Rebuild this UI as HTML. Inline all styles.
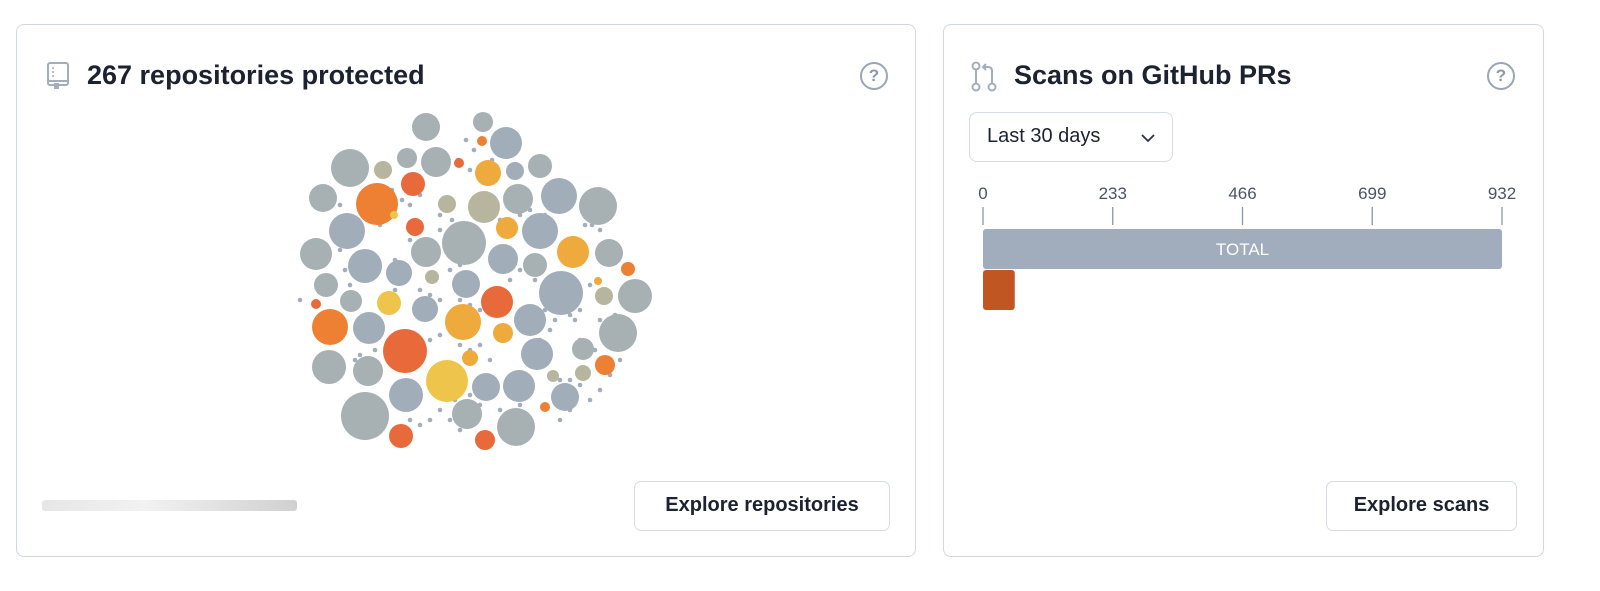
<!DOCTYPE html>
<html><head><meta charset="utf-8">
<style>
body{margin:0;width:1600px;height:591px;background:#fff;font-family:"Liberation Sans",sans-serif;position:relative;overflow:hidden}
.card{position:absolute;border:1.5px solid #cfd8e3;border-radius:8px;box-sizing:border-box;background:#fff}
.title{position:absolute;font-weight:bold;font-size:27px;color:#1c2230;top:56px}
.help{position:absolute;width:24px;height:24px;border:2px solid #9aa5b5;border-radius:50%;color:#8d98aa;font-size:17px;font-weight:bold;text-align:center;line-height:24px}
.btn{position:absolute;border:1.5px solid #d5dce5;border-radius:7px;box-sizing:border-box;font-weight:bold;font-size:20px;color:#1c2230;text-align:center;line-height:46px;background:#fff}
</style></head><body>
<div class="card" style="left:16px;top:24px;width:900px;height:533px">
  <svg style="position:absolute;left:28px;top:36px" width="28" height="30" viewBox="0 0 28 30"><rect x="3" y="2" width="20" height="22" rx="2" fill="none" stroke="#a2adbd" stroke-width="2"/><line x1="3" y1="20" x2="23" y2="20" stroke="#a2adbd" stroke-width="2"/><rect x="9" y="22" width="5" height="6" fill="#a2adbd"/><circle cx="8" cy="7" r="1" fill="#a2adbd"/><circle cx="8" cy="11" r="1" fill="#a2adbd"/><circle cx="8" cy="15" r="1" fill="#a2adbd"/></svg>
  <div class="title" style="left:70px;top:35px">267 repositories protected</div>
  <div class="help" style="left:843px;top:37px">?</div>
  <div style="position:absolute;left:25px;top:475px;width:255px;height:11px;border-radius:3px;background:linear-gradient(90deg,#e6e6e6,#f2f2f2 40%,#d0d0d0)"></div>
  <div class="btn" style="left:617px;top:456px;width:256px;height:50px">Explore repositories</div>
</div>
<svg id="bubbles" style="position:absolute;left:0;top:0" width="700" height="591"></svg>

<div class="card" style="left:943px;top:24px;width:601px;height:533px">
  <svg style="position:absolute;left:26px;top:36px" width="30" height="32" viewBox="0 0 30 32"><circle cx="6" cy="5" r="3.5" fill="none" stroke="#a2adbd" stroke-width="2"/><circle cx="6" cy="26" r="3.5" fill="none" stroke="#a2adbd" stroke-width="2"/><circle cx="22" cy="26" r="3.5" fill="none" stroke="#a2adbd" stroke-width="2"/><line x1="6" y1="9" x2="6" y2="22" stroke="#a2adbd" stroke-width="2"/><path d="M22 22 V10 Q22 6 18 6 H13 M16 3 L13 6 L16 9" fill="none" stroke="#a2adbd" stroke-width="2"/></svg>
  <div class="title" style="left:70px;top:35px">Scans on GitHub PRs</div>
  <div class="help" style="left:543px;top:37px">?</div>
  <div style="position:absolute;left:25px;top:87px;width:204px;height:50px;border:1.5px solid #d5dce5;border-radius:8px;box-sizing:border-box;font-size:20px;color:#1c2230;line-height:46px;padding-left:17px">Last 30 days<svg style="position:absolute;left:170px;top:20px" width="16" height="10" viewBox="0 0 16 10"><path d="M2 2 L8 8 L14 2" fill="none" stroke="#2a3140" stroke-width="1.8"/></svg></div>
</div>
<svg id="bars" style="position:absolute;left:960px;top:170px" width="580" height="150"></svg>

<div class="btn" style="left:1326px;top:481px;width:191px;height:50px">Explore scans</div>

<script>
const NS="http://www.w3.org/2000/svg";
const bubbleX=[426,483,506,350,407,436,540,515,323,559,598,518,347,464,540,316,365,426,503,609,399,326,351,466,535,561,635,425,530,618,369,537,329,368,519,583,406,486,467,565,365,516,377,413,497,405,330,415,401,485,605,628,316,488,573,507,463,503,470,447,389,484,383,447,432,604,583,553,459,482,545,394,598];
const bubbleY=[127,122,143,168,158,162,166,171,198,196,206,199,231,243,231,254,266,252,259,253,273,285,301,284,265,293,296,309,320,333,328,354,367,371,386,349,395,387,414,397,416,427,204,184,302,351,327,227,436,440,365,269,304,173,252,228,322,333,358,381,303,207,170,204,277,296,373,376,163,141,407,215,281];
const bubbleR=[14,10,16,19,10,15,12,9,14,18,19,15,18,22,18,16,17,15,15,14,13,12,11,14,12,22,17,13,16,19,16,16,17,15,16,11,17,14,15,14,24,19,21,12,16,22,18,9,12,10,10,7,5,13,16,11,18,10,8,21,12,16,9,9,7,9,8,6,5,5,5,4,4];
const bubbleC=["g","g","s","g","g","g","g","s","g","s","g","g","s","g","s","g","s","g","s","g","s","g","g","s","g","s","g","s","s","g","s","s","g","g","s","g","s","s","g","s","g","g","o","r","r","r","o","r","r","r","o","o","r","y","y","y","y","y","y","l","l","k","k","k","k","k","k","k","r","o","o","l","y"];
const palette={g:"#a7b0b3",s:"#a2adba",o:"#ee8033",r:"#e8693a",y:"#eeaa3c",l:"#eec44a",k:"#b7b59e"};
const dotX=[466,474,458,470,492,499,392,402,410,420,440,452,470,478,490,500,520,530,545,585,592,600,590,575,560,560,570,575,580,600,610,615,595,580,410,420,430,440,450,460,470,480,490,500,510,520,545,555,430,440,450,460,470,480,490,345,350,340,340,380,395,420,430,440,455,470,480,500,520,560,570,580,600,610,620,590,570,560,550,540,430,440,450,460,420,410,400,395,385,300,355,360,375,530,535,450,460];
const dotY=[140,150,160,170,160,150,190,200,205,195,215,220,225,215,215,220,215,210,215,225,225,230,285,290,300,310,315,320,310,320,320,315,350,340,240,245,240,230,235,300,305,310,300,290,280,270,310,320,340,335,330,345,350,345,360,270,285,250,205,225,260,290,295,300,400,395,405,410,405,380,380,385,390,375,360,400,410,420,330,340,420,410,420,430,425,420,430,290,300,300,360,355,350,270,280,270,265];
const bub=document.getElementById('bubbles');
for(let i=0;i<dotX.length;i++){
  const c=document.createElementNS(NS,'circle');
  c.setAttribute('cx',dotX[i]);c.setAttribute('cy',dotY[i]);c.setAttribute('r',2.3);c.setAttribute('fill','#a2adbd');
  
  
  bub.appendChild(c);
}
for(let i=0;i<bubbleX.length;i++){
  const c=document.createElementNS(NS,'circle');
  c.setAttribute('cx',bubbleX[i]);c.setAttribute('cy',bubbleY[i]);c.setAttribute('r',bubbleR[i]);c.setAttribute('fill',palette[bubbleC[i]]);
  
  
  bub.appendChild(c);
}
const tickValues=[0,233,466,699,932];
const barLabels=["TOTAL",""];
const barValues=[932,57];
const barColors=["#a1acbd","#c05621"];
const maxV=932, x0=23, x1=542;
const sx=v=>x0+(x1-x0)*v/maxV;
const bs=document.getElementById('bars');
tickValues.forEach(t=>{
  const tx=document.createElementNS(NS,'text');
  tx.setAttribute('x',sx(t));tx.setAttribute('y',29);tx.setAttribute('text-anchor','middle');
  tx.setAttribute('font-size','17');tx.setAttribute('fill','#4a5466');tx.setAttribute('font-family','Liberation Sans, sans-serif');
  tx.textContent=t;
  
  
  bs.appendChild(tx);
  const l=document.createElementNS(NS,'line');
  l.setAttribute('x1',sx(t));l.setAttribute('x2',sx(t));l.setAttribute('y1',37);l.setAttribute('y2',55);
  l.setAttribute('stroke','#8b96a8');l.setAttribute('stroke-width','1.3');
  
  
  bs.appendChild(l);
});
barValues.forEach((v,i)=>{
  const y=59+i*41;
  const r=document.createElementNS(NS,'rect');
  r.setAttribute('x',sx(0));r.setAttribute('y',y);r.setAttribute('width',sx(v)-sx(0));r.setAttribute('height',40);
  r.setAttribute('rx',3);r.setAttribute('fill',barColors[i]);
  
  
  bs.appendChild(r);
  if(barLabels[i]){
    const t=document.createElementNS(NS,'text');
    t.setAttribute('x',(sx(0)+sx(v))/2);t.setAttribute('y',y+26);t.setAttribute('text-anchor','middle');
    t.setAttribute('font-size','17');t.setAttribute('fill','#fff');t.setAttribute('font-family','Liberation Sans, sans-serif');
    t.textContent=barLabels[i];
    
    
    bs.appendChild(t);
  }
});
</script>
</body></html>
